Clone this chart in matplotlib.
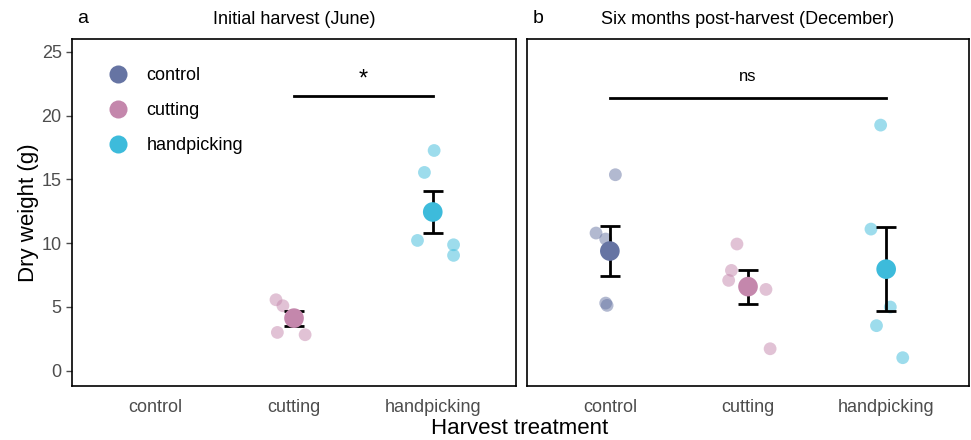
import matplotlib
matplotlib.use("Agg")
import matplotlib.pyplot as plt
import numpy as np
from matplotlib.lines import Line2D

plt.rcParams['font.family'] = ['Liberation Sans', 'DejaVu Sans']

categories = ["control", "cutting", "handpicking"]
colors = {"control": "#6674A3", "cutting": "#C487AC", "handpicking": "#3DBBDB"}

# Panel a: Initial harvest (June)
a_points = {
    "cutting": [5.56, 5.09, 3.00, 2.82],
    "handpicking": [17.26, 15.54, 10.21, 9.87, 9.04],
}
a_jitter = {
    "cutting": [-0.13, -0.08, -0.12, 0.08],
    "handpicking": [0.01, -0.06, -0.11, 0.15, 0.15],
}
a_means = {"cutting": 4.12, "handpicking": 12.44}
a_se = {"cutting": 0.59, "handpicking": 1.68}

# Panel b: Six months post-harvest (December)
b_points = {
    "control": [15.36, 10.79, 10.32, 5.30, 5.12],
    "cutting": [9.93, 7.86, 7.08, 6.37, 1.72],
    "handpicking": [19.25, 11.10, 4.99, 3.53, 1.02],
}
b_jitter = {
    "control": [0.04, -0.10, -0.03, -0.03, -0.02],
    "cutting": [-0.08, -0.12, -0.14, 0.13, 0.16],
    "handpicking": [-0.04, -0.11, 0.03, -0.07, 0.12],
}
b_means = {"control": 9.38, "cutting": 6.59, "handpicking": 7.96}
b_se = {"control": 1.93, "cutting": 1.34, "handpicking": 3.28}

yticks = [0, 5, 10, 15, 20, 25]
sig_a = {"from": "cutting", "to": "handpicking", "y": 21.5, "label": "*"}
sig_b = {"from": "control", "to": "handpicking", "y": 21.4, "label": "ns"}

fig = plt.figure(figsize=(9.71, 4.4), dpi=100)
axa = fig.add_axes([0.0742, 0.1227, 0.5314 - 0.0742, 0.9114 - 0.1227])
axb = fig.add_axes([0.5427, 0.1227, 0.998 - 0.5427, 0.9114 - 0.1227])

def draw(ax, points, jitter, means, se, sig, title, letter, show_y):
    xpos = {c: i for i, c in enumerate(categories)}
    for c in categories:
        if c in points:
            xs = xpos[c] + np.array(jitter[c])
            ax.scatter(xs, points[c], s=85, color=colors[c], alpha=0.5,
                       edgecolors='none', zorder=2)
    for c in categories:
        if c in means:
            ax.errorbar([xpos[c]], [means[c]], yerr=[se[c]], fmt='none',
                        ecolor='black', elinewidth=2.0, capsize=7,
                        capthick=2.0, zorder=3)
            ax.scatter([xpos[c]], [means[c]], s=200, color=colors[c],
                       edgecolors='none', zorder=4)
    ax.plot([xpos[sig["from"]], xpos[sig["to"]]], [sig["y"], sig["y"]],
            color='black', lw=2.0)
    if sig["label"] == "*":
        ax.text((xpos[sig["from"]] + xpos[sig["to"]]) / 2, sig["y"] + 0.45,
                sig["label"], ha='center', va='bottom', fontsize=17,
                color='black')
    else:
        ax.text((xpos[sig["from"]] + xpos[sig["to"]]) / 2, sig["y"] + 1.1,
                sig["label"], ha='center', va='bottom', fontsize=12,
                color='black')
    ax.set_xlim(-0.6, 2.6)
    ax.set_ylim(-1.2, 26.0)
    ax.set_xticks(range(len(categories)))
    ax.set_xticklabels(categories)
    ax.set_yticks(yticks)
    ax.tick_params(axis='both', labelsize=13, colors='#4D4D4D', length=4,
                   width=1)
    for sp in ax.spines.values():
        sp.set_linewidth(1.2)
        sp.set_color('black')
    ax.set_title(title, fontsize=13, pad=11)
    ax.text(0.012, 1.035, letter, transform=ax.transAxes, fontsize=14,
            ha='left', va='bottom')
    if not show_y:
        ax.tick_params(axis='y', left=False, labelleft=False)
    ax.tick_params(axis='x', bottom=False, pad=5)

draw(axa, a_points, a_jitter, a_means, a_se, sig_a,
     "Initial harvest (June)", "a", True)
draw(axb, b_points, b_jitter, b_means, b_se, sig_b,
     "Six months post-harvest (December)", "b", False)

axa.set_ylabel("Dry weight (g)", fontsize=16, labelpad=2)
fig.text(0.535, 0.027, "Harvest treatment", ha='center', va='center', fontsize=16)

# legend
handles = [Line2D([0], [0], marker='o', linestyle='none', markersize=13,
                  markerfacecolor=colors[c], markeredgecolor='none') for c in categories]
axa.legend(handles, categories, loc='upper left', bbox_to_anchor=(0.035, 0.955),
           frameon=False, fontsize=13, handletextpad=0.55, labelspacing=1.0,
           borderaxespad=0.3)

fig.savefig("out.png", dpi=100)
